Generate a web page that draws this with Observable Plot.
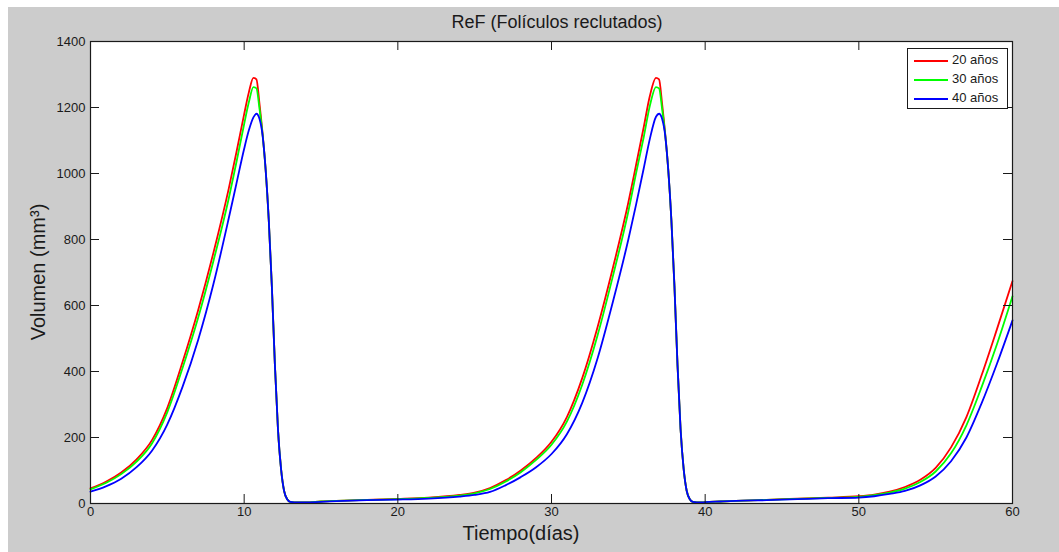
<!DOCTYPE html>
<html><head><meta charset="utf-8">
<script src="https://cdn.jsdelivr.net/npm/d3@7"></script>
<script src="https://cdn.jsdelivr.net/npm/@observablehq/plot@0.6"></script>
<style>
body{margin:0;background:#fff;font-family:"Liberation Sans",Arial,Helvetica,sans-serif;}
#fig{position:relative;width:1059px;height:552px;overflow:hidden;background:#fff;}
#bg{position:absolute;left:8px;top:7px;right:0;bottom:0;background:#cccccc;}
#chart{position:absolute;left:0;top:0;}
.lbl{position:absolute;color:#1a1a1a;white-space:nowrap;line-height:1;}
#legend{position:absolute;left:907px;top:48px;width:99px;height:59px;background:#fff;border:1px solid #1a1a1a;font-size:13px;color:#1a1a1a;}
#legend .row{position:absolute;left:0;height:16px;}
#legend .sw{position:absolute;left:6px;width:34px;height:0;border-top:2px solid;}
#legend .tx{position:absolute;left:44px;top:-7px;white-space:nowrap;line-height:1;}
</style></head><body>
<div id="fig">
  <div id="bg"></div>
  <div id="chart"></div>
  <div class="lbl" id="title" style="left:557px;top:22px;transform:translate(-50%,-50%);font-size:18px;">ReF (Folículos reclutados)</div>
  <div class="lbl" id="xlabel" style="left:521px;top:533px;transform:translate(-50%,-50%);font-size:20px;">Tiempo(días)</div>
  <div class="lbl" id="ylabel" style="left:38px;top:272px;transform:translate(-50%,-50%) rotate(-90deg);font-size:20px;">Volumen (mm³)</div>
  <div id="legend"></div>
</div>
<script>
// Tick values
const xTicks = [0, 10, 20, 30, 40, 50, 60];
const yTicks = [0, 200, 400, 600, 800, 1000, 1200, 1400];

// Series names and colours
const seriesNames = ["20 años", "30 años", "40 años"];
const seriesColors = ["#ff0000", "#00ff00", "#0000ff"];

// Time (days)
const times = [0,1,2,3,4,5,6,7,8,9,9.5,10,10.3,10.6,10.8,11,11.2,11.4,11.6,11.8,12,12.2,12.4,12.6,12.8,13,13.5,14,15,16,18,20,22,24,25,26,27,28,29,30,31,32,33,34,35,35.5,36,36.4,36.8,37,37.2,37.4,37.6,37.8,38,38.2,38.4,38.6,38.8,39,39.2,39.7,40,41,42,44,46,48,50,51,52,53,54,55,56,57,58,59,60];

// Volume (mm^3) — 20 años
const vol20 = [46,66,94,134,192,290,430,585,760,955,1065,1180,1245,1290,1285,1210,1120,1010,860,660,420,225,105,38,13,5,3,3,6,8,11,14,18,26,33,47,70,100,138,187,262,380,535,715,912,1025,1140,1235,1290,1285,1210,1120,1010,860,660,420,225,105,38,13,5,3,4,6,8,11,15,18,22,27,36,50,72,108,170,262,390,530,674];
// Volume (mm^3) — 30 años
const vol30 = [43,62,89,127,182,277,412,562,735,925,1035,1150,1215,1262,1258,1195,1118,1010,860,660,420,225,105,38,13,5,3,3,6,8,11,13,17,24,31,44,66,95,132,178,248,360,510,690,885,1000,1110,1205,1262,1258,1195,1118,1010,860,660,420,225,105,38,13,5,3,4,6,8,11,14,17,20,25,33,45,65,97,152,237,354,484,628];
// Volume (mm^3) — 40 años
const vol40 = [36,52,75,110,160,240,355,495,665,865,970,1075,1130,1170,1181,1165,1115,1010,860,660,420,225,105,38,13,5,3,3,5,7,10,12,15,21,26,35,55,80,110,150,210,305,440,612,800,905,1015,1105,1172,1181,1165,1115,1010,860,660,420,225,105,38,13,5,3,4,6,8,10,13,16,18,22,29,38,55,82,128,200,305,425,555];

const W = 1059, H = 552;
const mL = 90, mR = 47, mT = 41, mB = 49;
const plotW = W - mL - mR, plotH = H - mT - mB;
const tickLen = 9;
const axisColor = "#1a1a1a";

const seriesData = [vol20, vol30, vol40];

const lineMarks = seriesData.map((vals, k) =>
  Plot.line(times, {x: d => d, y: (d, i) => vals[i], stroke: seriesColors[k], strokeWidth: 1.8, curve: "monotone-x"})
);

const chart = Plot.plot({
  width: W, height: H,
  marginLeft: mL, marginRight: mR, marginTop: mT, marginBottom: mB,
  style: {background: "transparent", fontFamily: '"Liberation Sans", Arial, sans-serif', fontSize: "13px", color: axisColor, overflow: "visible"},
  x: {domain: [0, 60]},
  y: {domain: [0, 1400]},
  marks: [
    Plot.frame({fill: "white", stroke: null}),
    ...lineMarks,
    Plot.tickX(xTicks, {x: d => d, insetTop: plotH - tickLen, stroke: axisColor}),
    Plot.tickX(xTicks, {x: d => d, insetBottom: plotH - tickLen, stroke: axisColor}),
    Plot.tickY(yTicks, {y: d => d, insetRight: plotW - tickLen, stroke: axisColor}),
    Plot.tickY(yTicks, {y: d => d, insetLeft: plotW - tickLen, stroke: axisColor}),
    Plot.axisX(xTicks, {tickSize: 0, tickPadding: 3, label: null, fontSize: 13, tickFormat: d => String(d)}),
    Plot.axisY(yTicks, {tickSize: 0, tickPadding: 5, label: null, fontSize: 13, tickFormat: d => String(d)}),
    Plot.frame({stroke: axisColor, strokeWidth: 1.2})
  ]
});
document.getElementById("chart").appendChild(chart);

// Legend
const legend = document.getElementById("legend");
const rowTops = [11, 30, 49];
seriesNames.forEach((name, k) => {
  const row = document.createElement("div");
  row.className = "row";
  row.style.top = rowTops[k] + "px";
  row.innerHTML = `<div class="sw" style="border-color:${seriesColors[k]}"></div><div class="tx">${name}</div>`;
  legend.appendChild(row);
});
</script>
</body></html>
